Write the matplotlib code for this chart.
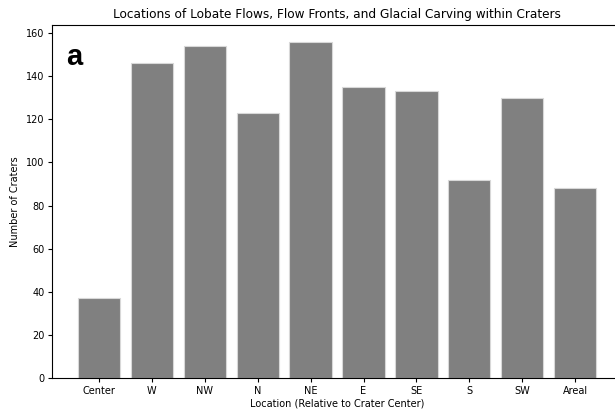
import matplotlib
matplotlib.use("Agg")
import matplotlib.pyplot as plt

locations = ["Center", "W", "NW", "N", "NE", "E", "SE", "S", "SW", "Areal"]
crater_counts = [37, 146, 154, 123, 156, 135, 133, 92, 130, 88]

fig = plt.figure(figsize=(6.15, 4.11), dpi=100)
# right edge of the axes runs just past the figure border
ax = fig.add_axes([0.0846, 0.0803, 0.927, 0.859])

ax.bar(locations, crater_counts, color="#808080", edgecolor="#d8d8d8", linewidth=0.8)

ax.set_title("Locations of Lobate Flows, Flow Fronts, and Glacial Carving within Craters",
             fontsize=8.7, pad=5)
ax.set_xlabel("Location (Relative to Crater Center)", fontsize=7, labelpad=2)
ax.set_ylabel("Number of Craters", fontsize=7, labelpad=4)
ax.tick_params(labelsize=7, length=3, pad=2.5)

ax.text(0.025, 0.887, "a", transform=ax.transAxes, fontsize=21, fontweight="bold",
        family="Liberation Sans", va="baseline")

fig.savefig("out.png", dpi=100)
